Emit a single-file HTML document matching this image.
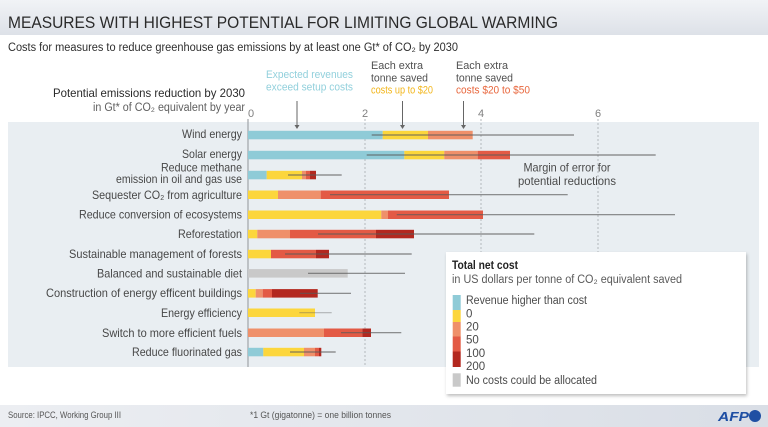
<!DOCTYPE html>
<html><head><meta charset="utf-8"><style>
html,body{margin:0;padding:0;background:#fff;}
svg{display:block;}
text{font-family:"Liberation Sans",sans-serif;}
</style></head><body>
<svg width="768" height="427" viewBox="0 0 768 427" xmlns="http://www.w3.org/2000/svg">
<defs>
<linearGradient id="hg" x1="0" y1="0" x2="0" y2="1"><stop offset="0" stop-color="#f1f3f6"/><stop offset="1" stop-color="#dde1e8"/></linearGradient>
<linearGradient id="fg" x1="0" y1="0" x2="1" y2="0"><stop offset="0" stop-color="#eceef2"/><stop offset="1" stop-color="#d9dee6"/></linearGradient>
<filter id="sh" x="-5%" y="-5%" width="112%" height="115%"><feDropShadow dx="1" dy="2" stdDeviation="1.5" flood-color="#000" flood-opacity="0.25"/></filter>
</defs>
<rect x="0" y="0" width="768" height="427" fill="#fff"/>
<rect x="0" y="0" width="768" height="35" fill="url(#hg)"/>
<text x="8" y="28" font-size="17" fill="#2a2a2a" textLength="550" lengthAdjust="spacingAndGlyphs">MEASURES WITH HIGHEST POTENTIAL FOR LIMITING GLOBAL WARMING</text>
<text x="8" y="51" font-size="11.5" fill="#2e2e2e" textLength="450" lengthAdjust="spacingAndGlyphs">Costs for measures to reduce greenhouse gas emissions by at least one Gt* of CO₂ by 2030</text>

<!-- axis title -->
<text x="245" y="97" font-size="12" fill="#2a2a2a" text-anchor="end" textLength="192" lengthAdjust="spacingAndGlyphs">Potential emissions reduction by 2030</text>
<text x="245" y="111" font-size="11.5" fill="#606060" text-anchor="end" textLength="152" lengthAdjust="spacingAndGlyphs">in Gt* of CO₂ equivalent by year</text>

<!-- annotations -->
<g font-size="11" text-anchor="start">
<text x="266" y="78" fill="#92d0dc" textLength="87" lengthAdjust="spacingAndGlyphs">Expected revenues</text>
<text x="266" y="90.5" fill="#92d0dc" textLength="87" lengthAdjust="spacingAndGlyphs">exceed setup costs</text>
<text x="371" y="69" fill="#505050" textLength="52" lengthAdjust="spacingAndGlyphs">Each extra</text>
<text x="371" y="81.5" fill="#505050" textLength="57" lengthAdjust="spacingAndGlyphs">tonne saved</text>
<text x="371" y="93.5" fill="#f2b61c" textLength="62" lengthAdjust="spacingAndGlyphs">costs up to $20</text>
<text x="456" y="69" fill="#505050" textLength="52" lengthAdjust="spacingAndGlyphs">Each extra</text>
<text x="456" y="81.5" fill="#505050" textLength="57" lengthAdjust="spacingAndGlyphs">tonne saved</text>
<text x="456" y="93.5" fill="#e8663c" textLength="74" lengthAdjust="spacingAndGlyphs">costs $20 to $50</text>
</g>

<!-- tick labels -->
<g font-size="11" fill="#808080">
<text x="248" y="117">0</text>
<text x="365" y="117" text-anchor="middle">2</text>
<text x="481" y="117" text-anchor="middle">4</text>
<text x="598" y="117" text-anchor="middle">6</text>
</g>

<!-- panel -->
<rect x="8" y="122" width="751" height="245" fill="#e9eef2"/>
<g stroke="#b4b8bc" stroke-width="1" stroke-dasharray="2,2">
<line x1="365" y1="119" x2="365" y2="367"/>
<line x1="481" y1="119" x2="481" y2="367"/>
<line x1="598" y1="119" x2="598" y2="367"/>
</g>
<line x1="248" y1="119" x2="248" y2="367" stroke="#a0a4a8" stroke-width="1.2"/>

<!-- arrows -->
<g stroke="#666" stroke-width="1" fill="#666">
<line x1="297" y1="101" x2="297" y2="126"/><path d="M294.5,125 L299.5,125 L297,129 Z" stroke="none"/>
<line x1="402.5" y1="101" x2="402.5" y2="126"/><path d="M400,125 L405,125 L402.5,129 Z" stroke="none"/>
<line x1="463.5" y1="101" x2="463.5" y2="126"/><path d="M461,125 L466,125 L463.5,129 Z" stroke="none"/>
</g>

<!-- row labels -->
<g font-size="12" fill="#474747" text-anchor="end">
<text x="242" y="138" textLength="60" lengthAdjust="spacingAndGlyphs">Wind energy</text>
<text x="242" y="158" textLength="60" lengthAdjust="spacingAndGlyphs">Solar energy</text>
<text x="242" y="171.5" textLength="81" lengthAdjust="spacingAndGlyphs">Reduce methane</text>
<text x="242" y="183" textLength="126" lengthAdjust="spacingAndGlyphs">emission in oil and gas use</text>
<text x="242" y="199" textLength="150" lengthAdjust="spacingAndGlyphs">Sequester CO₂ from agriculture</text>
<text x="242" y="218.5" textLength="163" lengthAdjust="spacingAndGlyphs">Reduce conversion of ecosystems</text>
<text x="242" y="238" textLength="64" lengthAdjust="spacingAndGlyphs">Reforestation</text>
<text x="242" y="258" textLength="173" lengthAdjust="spacingAndGlyphs">Sustainable  management of forests</text>
<text x="242" y="277.5" textLength="145" lengthAdjust="spacingAndGlyphs">Balanced and sustainable diet</text>
<text x="242" y="297" textLength="196" lengthAdjust="spacingAndGlyphs">Construction of energy efficent buildings</text>
<text x="242" y="317" textLength="81" lengthAdjust="spacingAndGlyphs">Energy efficiency</text>
<text x="242" y="337" textLength="140" lengthAdjust="spacingAndGlyphs">Switch to more efficient fuels</text>
<text x="242" y="356" textLength="110" lengthAdjust="spacingAndGlyphs">Reduce fluorinated gas</text>
</g>

<!-- bars -->
<g>
<rect x="248" y="130.8" width="134.7" height="8.5" fill="#8fcbd7"/>
<rect x="382.7" y="130.8" width="45.3" height="8.5" fill="#fcd63c"/>
<rect x="428" y="130.8" width="44.7" height="8.5" fill="#ef906a"/>
<rect x="248" y="150.8" width="156.3" height="8.5" fill="#8fcbd7"/>
<rect x="404.3" y="150.8" width="40" height="8.5" fill="#fcd63c"/>
<rect x="444.3" y="150.8" width="33.4" height="8.5" fill="#ef906a"/>
<rect x="477.7" y="150.8" width="32.3" height="8.5" fill="#e35a45"/>
<rect x="248" y="170.8" width="18.7" height="8.5" fill="#8fcbd7"/>
<rect x="266.7" y="170.8" width="35.3" height="8.5" fill="#fcd63c"/>
<rect x="302" y="170.8" width="4" height="8.5" fill="#ef906a"/>
<rect x="306" y="170.8" width="4" height="8.5" fill="#e35a45"/>
<rect x="310" y="170.8" width="6" height="8.5" fill="#b3281f"/>
<rect x="248" y="190.5" width="30" height="8.5" fill="#fcd63c"/>
<rect x="278" y="190.5" width="42.7" height="8.5" fill="#ef906a"/>
<rect x="320.7" y="190.5" width="128.3" height="8.5" fill="#e35a45"/>
<rect x="248" y="210.5" width="133.3" height="8.5" fill="#fcd63c"/>
<rect x="381.3" y="210.5" width="6.7" height="8.5" fill="#ef906a"/>
<rect x="388" y="210.5" width="95" height="8.5" fill="#e35a45"/>
<rect x="248" y="229.8" width="9.3" height="8.5" fill="#fcd63c"/>
<rect x="257.3" y="229.8" width="32.7" height="8.5" fill="#ef906a"/>
<rect x="290" y="229.8" width="86" height="8.5" fill="#e35a45"/>
<rect x="376" y="229.8" width="38" height="8.5" fill="#b3281f"/>
<rect x="248" y="249.8" width="23" height="8.5" fill="#fcd63c"/>
<rect x="271" y="249.8" width="45" height="8.5" fill="#e35a45"/>
<rect x="316" y="249.8" width="13" height="8.5" fill="#b3281f"/>
<rect x="248" y="269.1" width="99.7" height="8.5" fill="#c9c9c9"/>
<rect x="248" y="289.1" width="7.7" height="8.5" fill="#fcd63c"/>
<rect x="255.7" y="289.1" width="7" height="8.5" fill="#ef906a"/>
<rect x="262.7" y="289.1" width="9.3" height="8.5" fill="#e35a45"/>
<rect x="272" y="289.1" width="45.7" height="8.5" fill="#b3281f"/>
<rect x="248" y="308.5" width="67" height="8.5" fill="#fcd63c"/>
<rect x="248" y="328.5" width="76" height="8.5" fill="#ef906a"/>
<rect x="324" y="328.5" width="38.3" height="8.5" fill="#e35a45"/>
<rect x="362.3" y="328.5" width="8.7" height="8.5" fill="#b3281f"/>
<rect x="248" y="347.8" width="15.3" height="8.5" fill="#8fcbd7"/>
<rect x="263.3" y="347.8" width="40.7" height="8.5" fill="#fcd63c"/>
<rect x="304" y="347.8" width="11" height="8.5" fill="#ef906a"/>
<rect x="315" y="347.8" width="4" height="8.5" fill="#e35a45"/>
<rect x="319" y="347.8" width="2.3" height="8.5" fill="#b3281f"/>
</g>

<!-- error bars -->
<g stroke="#5a5a5a" stroke-opacity="0.75" stroke-width="1.2">
<line x1="371.7" y1="135" x2="574" y2="135"/>
<line x1="366.7" y1="155" x2="655.7" y2="155"/>
<line x1="288" y1="175" x2="341.7" y2="175"/>
<line x1="330" y1="194.7" x2="567.7" y2="194.7"/>
<line x1="396.7" y1="214.7" x2="675" y2="214.7"/>
<line x1="318" y1="234" x2="534.3" y2="234"/>
<line x1="285" y1="254" x2="411.7" y2="254"/>
<line x1="308" y1="273.3" x2="405" y2="273.3"/>
<line x1="300" y1="293.3" x2="351" y2="293.3"/>
<line x1="299.3" y1="312.7" x2="331.7" y2="312.7" stroke-opacity="0.4"/>
<line x1="341" y1="332.7" x2="401.3" y2="332.7"/>
<line x1="290" y1="352" x2="335.7" y2="352"/>
</g>

<!-- margin of error annotation -->
<text x="567" y="171.5" font-size="12" fill="#4a4a4a" text-anchor="middle" textLength="87" lengthAdjust="spacingAndGlyphs">Margin of error for</text>
<text x="567" y="185" font-size="12" fill="#4a4a4a" text-anchor="middle" textLength="98" lengthAdjust="spacingAndGlyphs">potential reductions</text>

<!-- legend -->
<rect x="446" y="252" width="300" height="142" fill="#fff" filter="url(#sh)"/>
<text x="452" y="269" font-size="11.5" font-weight="bold" fill="#222" textLength="66" lengthAdjust="spacingAndGlyphs">Total net cost</text>
<text x="452" y="283" font-size="11.5" fill="#5a5a5a" textLength="230" lengthAdjust="spacingAndGlyphs">in US dollars per tonne of  CO₂ equivalent saved</text>
<rect x="452.7" y="295" width="8" height="15" fill="#8fcbd7"/>
<rect x="452.7" y="310" width="8" height="12" fill="#fcd63c"/>
<rect x="452.7" y="322" width="8" height="14.5" fill="#ef906a"/>
<rect x="452.7" y="336.5" width="8" height="15" fill="#e35a45"/>
<rect x="452.7" y="351.5" width="8" height="15.5" fill="#b3281f"/>
<rect x="452.7" y="373.3" width="8" height="13.4" fill="#c9c9c9"/>
<g font-size="11.5" fill="#4a4a4a">
<text x="466" y="304" textLength="121" lengthAdjust="spacingAndGlyphs">Revenue higher than cost</text>
<text x="466" y="317.5">0</text>
<text x="466" y="330.5">20</text>
<text x="466" y="343.5">50</text>
<text x="466" y="357">100</text>
<text x="466" y="370">200</text>
<text x="466" y="384" textLength="131" lengthAdjust="spacingAndGlyphs">No costs could be allocated</text>
</g>

<!-- footer -->
<rect x="0" y="405" width="768" height="22" fill="url(#fg)"/>
<text x="8" y="418" font-size="9" fill="#555" textLength="113" lengthAdjust="spacingAndGlyphs">Source: IPCC, Working Group III</text>
<text x="250" y="418" font-size="9" fill="#555" textLength="141" lengthAdjust="spacingAndGlyphs">*1 Gt (gigatonne) = one billion tonnes</text>
<text x="718" y="421" font-size="13" font-weight="bold" font-style="italic" fill="#1f4fa3" textLength="31" lengthAdjust="spacingAndGlyphs">AFP</text>
<circle cx="755" cy="416" r="6" fill="#1f4fa3"/>
</svg>
</body></html>
